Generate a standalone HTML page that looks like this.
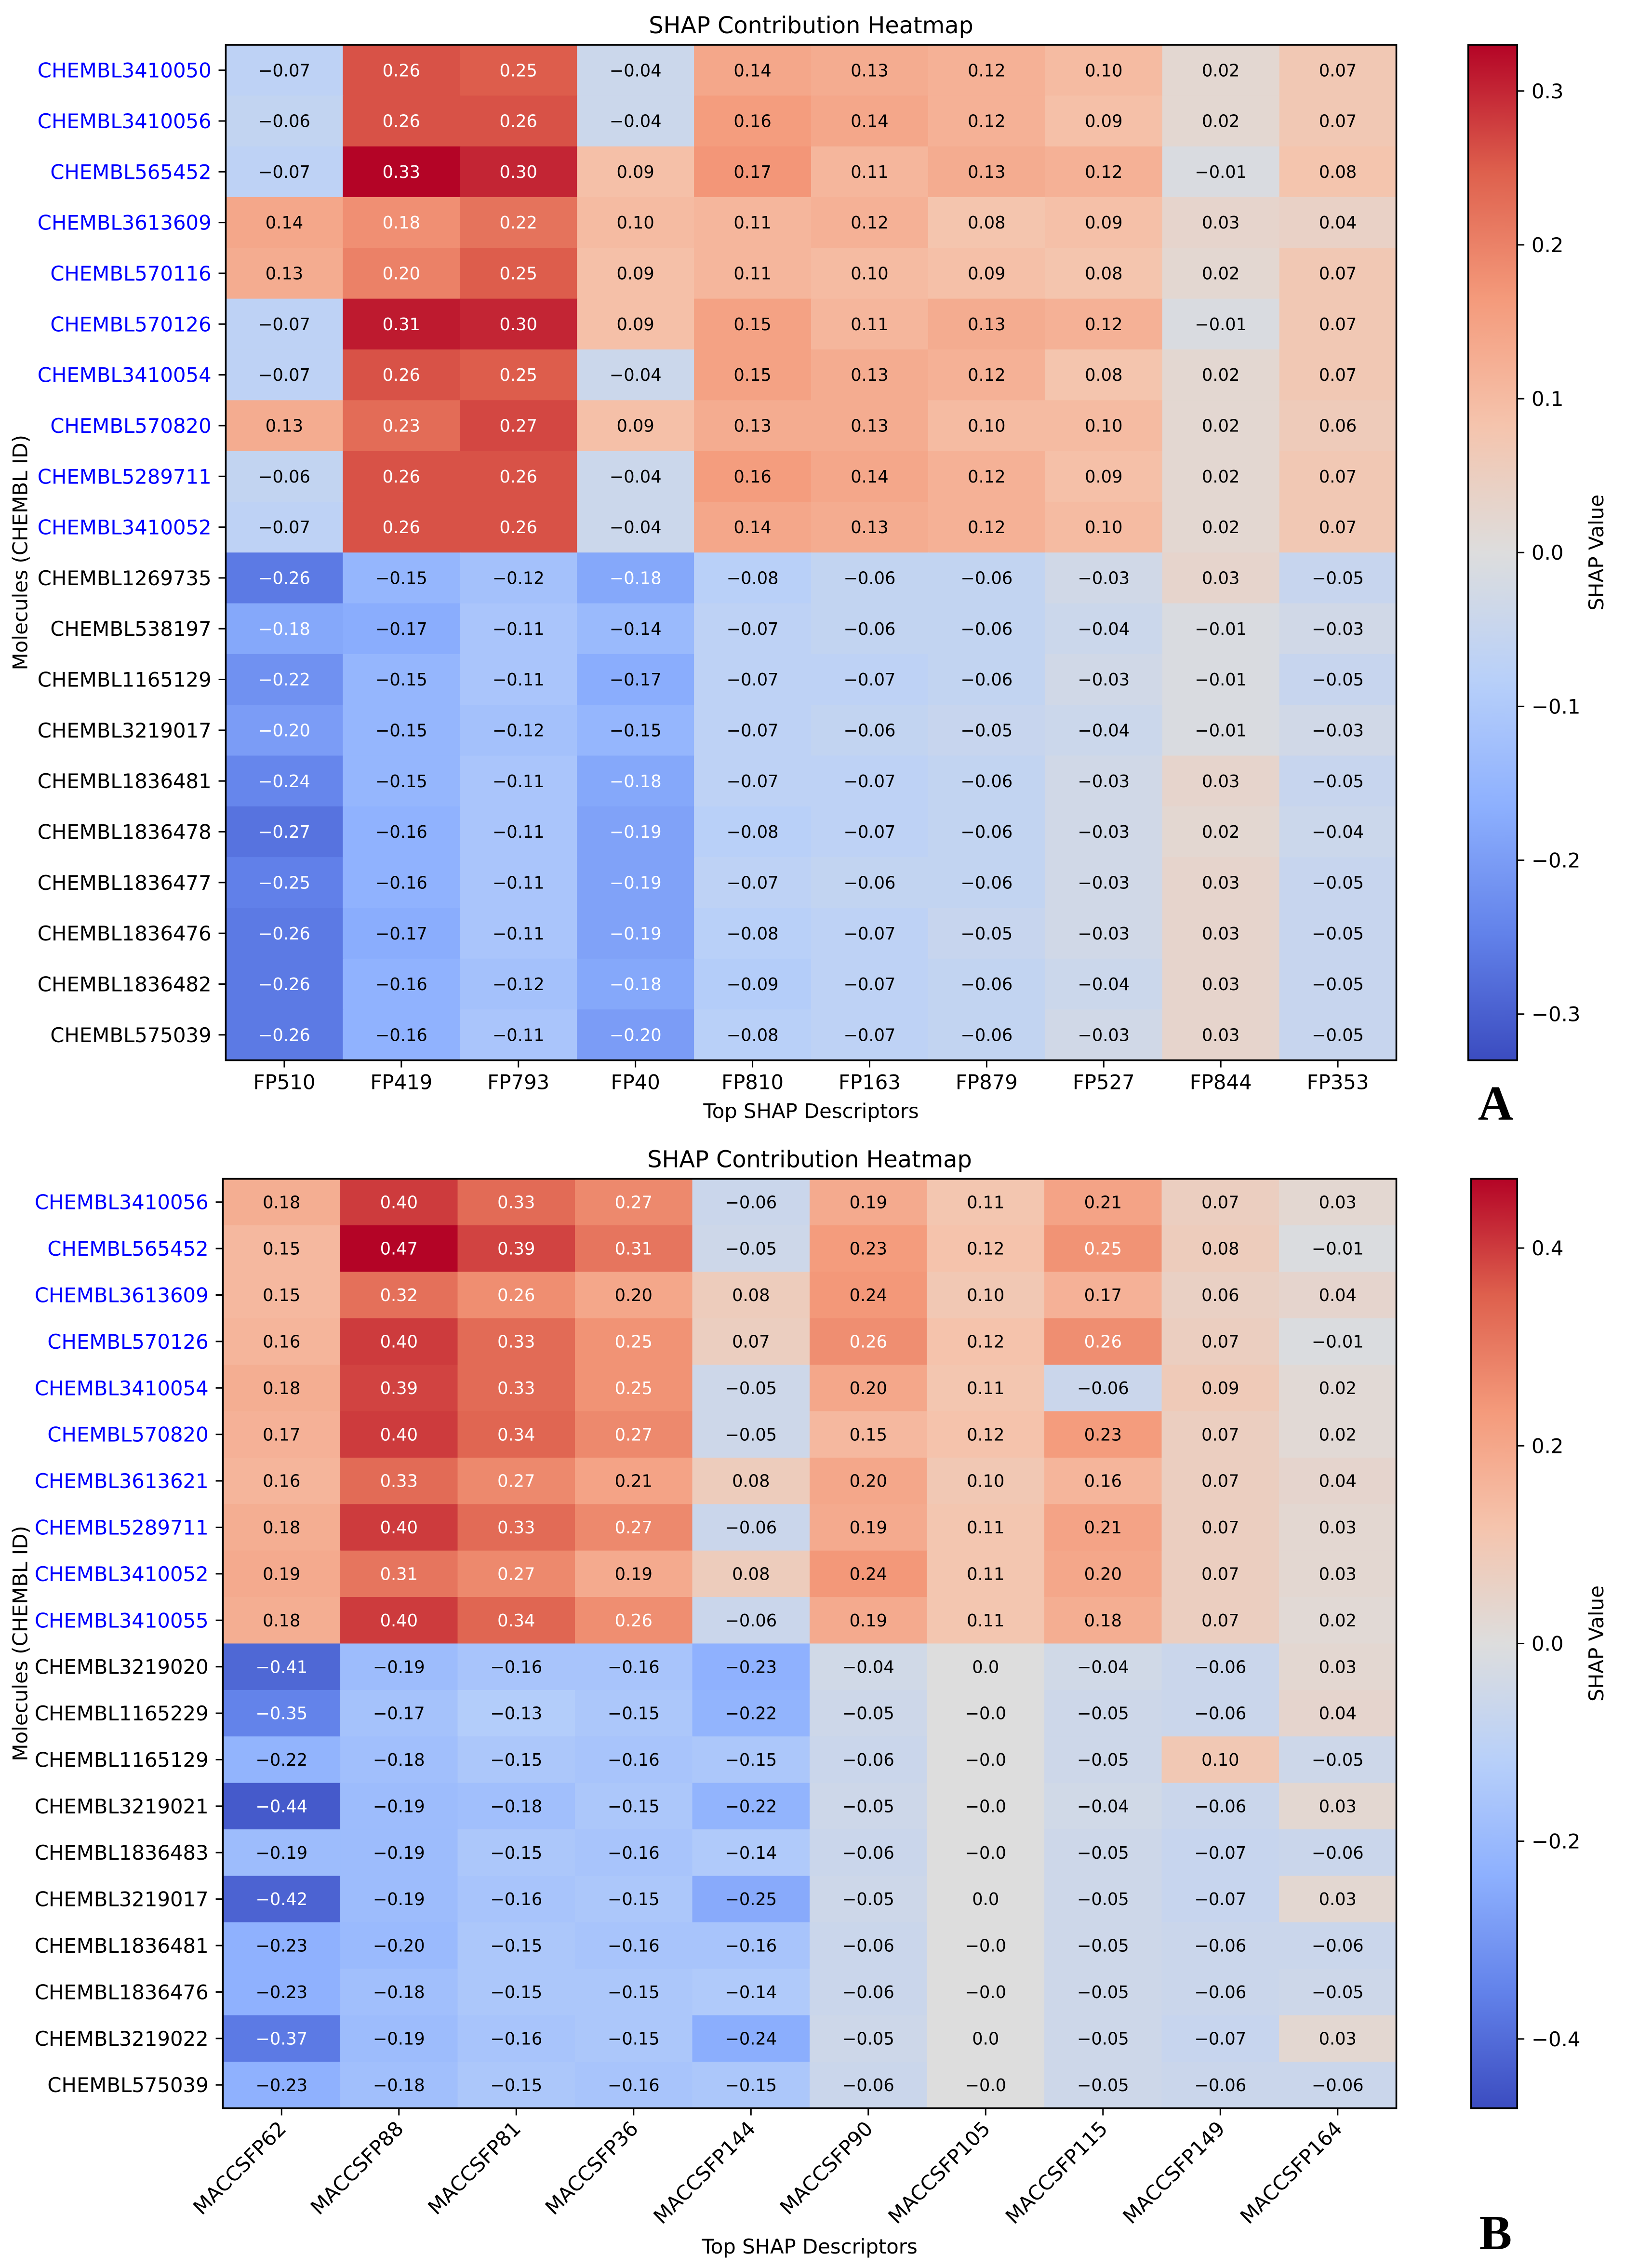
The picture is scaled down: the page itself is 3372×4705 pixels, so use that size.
<!DOCTYPE html>
<html><head><meta charset="utf-8"><style>
html,body{margin:0;padding:0;background:#fff;}
svg{display:block;font-family:"DejaVu Sans","Liberation Sans",sans-serif;}
</style></head><body>
<svg id="fig" width="3372" height="4705" viewBox="0 0 1130 1568" preserveAspectRatio="none" xmlns="http://www.w3.org/2000/svg"></svg>
<script>
// ---- Chart A data ----
const colsA = ["FP510","FP419","FP793","FP40","FP810","FP163","FP879","FP527","FP844","FP353"];
const rowsA = ["CHEMBL3410050","CHEMBL3410056","CHEMBL565452","CHEMBL3613609","CHEMBL570116","CHEMBL570126","CHEMBL3410054","CHEMBL570820","CHEMBL5289711","CHEMBL3410052","CHEMBL1269735","CHEMBL538197","CHEMBL1165129","CHEMBL3219017","CHEMBL1836481","CHEMBL1836478","CHEMBL1836477","CHEMBL1836476","CHEMBL1836482","CHEMBL575039"];
const valsA = [
[-0.07,0.26,0.25,-0.04,0.14,0.13,0.12,0.1,0.02,0.07],
[-0.06,0.26,0.26,-0.04,0.16,0.14,0.12,0.09,0.02,0.07],
[-0.07,0.33,0.3,0.09,0.17,0.11,0.13,0.12,-0.01,0.08],
[0.14,0.18,0.22,0.1,0.11,0.12,0.08,0.09,0.03,0.04],
[0.13,0.2,0.25,0.09,0.11,0.1,0.09,0.08,0.02,0.07],
[-0.07,0.31,0.3,0.09,0.15,0.11,0.13,0.12,-0.01,0.07],
[-0.07,0.26,0.25,-0.04,0.15,0.13,0.12,0.08,0.02,0.07],
[0.13,0.23,0.27,0.09,0.13,0.13,0.1,0.1,0.02,0.06],
[-0.06,0.26,0.26,-0.04,0.16,0.14,0.12,0.09,0.02,0.07],
[-0.07,0.26,0.26,-0.04,0.14,0.13,0.12,0.1,0.02,0.07],
[-0.26,-0.15,-0.12,-0.18,-0.08,-0.06,-0.06,-0.03,0.03,-0.05],
[-0.18,-0.17,-0.11,-0.14,-0.07,-0.06,-0.06,-0.04,-0.01,-0.03],
[-0.22,-0.15,-0.11,-0.17,-0.07,-0.07,-0.06,-0.03,-0.01,-0.05],
[-0.20,-0.15,-0.12,-0.15,-0.07,-0.06,-0.05,-0.04,-0.01,-0.03],
[-0.24,-0.15,-0.11,-0.18,-0.07,-0.07,-0.06,-0.03,0.03,-0.05],
[-0.27,-0.16,-0.11,-0.19,-0.08,-0.07,-0.06,-0.03,0.02,-0.04],
[-0.25,-0.16,-0.11,-0.19,-0.07,-0.06,-0.06,-0.03,0.03,-0.05],
[-0.26,-0.17,-0.11,-0.19,-0.08,-0.07,-0.05,-0.03,0.03,-0.05],
[-0.26,-0.16,-0.12,-0.18,-0.09,-0.07,-0.06,-0.04,0.03,-0.05],
[-0.26,-0.16,-0.11,-0.20,-0.08,-0.07,-0.06,-0.03,0.03,-0.05]];
const ticksA = [-0.3,-0.2,-0.1,0,0.1,0.2,0.3];
const vmaxA = 0.33;

// ---- Chart B data ----
const colsB = ["MACCSFP62","MACCSFP88","MACCSFP81","MACCSFP36","MACCSFP144","MACCSFP90","MACCSFP105","MACCSFP115","MACCSFP149","MACCSFP164"];
const rowsB = ["CHEMBL3410056","CHEMBL565452","CHEMBL3613609","CHEMBL570126","CHEMBL3410054","CHEMBL570820","CHEMBL3613621","CHEMBL5289711","CHEMBL3410052","CHEMBL3410055","CHEMBL3219020","CHEMBL1165229","CHEMBL1165129","CHEMBL3219021","CHEMBL1836483","CHEMBL3219017","CHEMBL1836481","CHEMBL1836476","CHEMBL3219022","CHEMBL575039"];
const valsB = [
[0.18,0.40,0.33,0.27,-0.06,0.19,0.11,0.21,0.07,0.03],
[0.15,0.47,0.39,0.31,-0.05,0.23,0.12,0.25,0.08,-0.01],
[0.15,0.32,0.26,0.20,0.08,0.24,0.1,0.17,0.06,0.04],
[0.16,0.40,0.33,0.25,0.07,0.26,0.12,0.26,0.07,-0.01],
[0.18,0.39,0.33,0.25,-0.05,0.20,0.11,-0.06,0.09,0.02],
[0.17,0.40,0.34,0.27,-0.05,0.15,0.12,0.23,0.07,0.02],
[0.16,0.33,0.27,0.21,0.08,0.20,0.1,0.16,0.07,0.04],
[0.18,0.40,0.33,0.27,-0.06,0.19,0.11,0.21,0.07,0.03],
[0.19,0.31,0.27,0.19,0.08,0.24,0.11,0.20,0.07,0.03],
[0.18,0.40,0.34,0.26,-0.06,0.19,0.11,0.18,0.07,0.02],
[-0.41,-0.19,-0.16,-0.16,-0.23,-0.04,0.0,-0.04,-0.06,0.03],
[-0.35,-0.17,-0.13,-0.15,-0.22,-0.05,-0.001,-0.05,-0.06,0.04],
[-0.22,-0.18,-0.15,-0.16,-0.15,-0.06,-0.001,-0.05,0.10,-0.05],
[-0.44,-0.19,-0.18,-0.15,-0.22,-0.05,-0.001,-0.04,-0.06,0.03],
[-0.19,-0.19,-0.15,-0.16,-0.14,-0.06,-0.001,-0.05,-0.07,-0.06],
[-0.42,-0.19,-0.16,-0.15,-0.25,-0.05,0.0,-0.05,-0.07,0.03],
[-0.23,-0.20,-0.15,-0.16,-0.16,-0.06,-0.001,-0.05,-0.06,-0.06],
[-0.23,-0.18,-0.15,-0.15,-0.14,-0.06,-0.001,-0.05,-0.06,-0.05],
[-0.37,-0.19,-0.16,-0.15,-0.24,-0.05,0.0,-0.05,-0.07,0.03],
[-0.23,-0.18,-0.15,-0.16,-0.15,-0.06,-0.001,-0.05,-0.06,-0.06]];
const ticksB = [-0.4,-0.2,0,0.2,0.4];
const vmaxB = 0.47;

const NS = "http://www.w3.org/2000/svg";
const svg = document.getElementById('fig');
const CM = [[59,76,192],[98,130,234],[141,176,254],[184,208,249],[221,221,221],[245,196,173],[244,154,123],[222,96,77],[180,4,38]];
function cmap(t){ t=Math.max(0,Math.min(1,t)); const p=t*8, i=Math.min(7,Math.floor(p)), f=p-i;
  const c=CM[i].map((a,k)=>a+(CM[i+1][k]-a)*f); return c; }
function rgb(c){return `rgb(${c.map(Math.round).join(',')})`;}
function lum(c){const l=c.map(v=>{v/=255;return v<=0.03928?v/12.92:Math.pow((v+0.055)/1.055,2.4);});return 0.2126*l[0]+0.7152*l[1]+0.0722*l[2];}
function el(tag, attrs, parent){const e=document.createElementNS(NS,tag);for(const k in attrs)e.setAttribute(k,attrs[k]);(parent||svg).appendChild(e);return e;}
function fmt(v){ if(Math.abs(v)<0.005) return (v<0?"\u22120.0":"0.0"); let s=v.toFixed(2); return s.replace('-','\u2212'); }

const defs = el('defs',{});
const grad = el('linearGradient',{id:'cg',x1:0,y1:1,x2:0,y2:0},defs);
for(let i=0;i<=16;i++){ el('stop',{offset:i/16,'stop-color':rgb(cmap(i/16))},grad); }

function draw(cfg){
  const {cols,rows,vals,ticks,vmax,x0,x1,y0,y1,title,titleY,rotate,letter,letterY,xTitleY,cbX,cbW,key}=cfg;
  const g = el('g',{});
  
  
  const cw=(x1-x0)/cols.length, rh=(y1-y0)/rows.length;
  const xs=i=>x0+i*cw, ys=j=>y0+j*rh, norm=v=>(v+vmax)/(2*vmax);
  const t=el('text',{x:(x0+x1)/2,y:titleY,'text-anchor':'middle','font-size':16},g); t.textContent=title;
   
  rows.forEach((r,j)=>{ cols.forEach((c,i)=>{
    const v=vals[j][i], col=cmap(norm(v));
    const rc=el('rect',{x:xs(i),y:ys(j),width:cw+0.4,height:rh+0.4,fill:rgb(col)},g);
     
    const tx=el('text',{x:xs(i)+cw/2,y:ys(j)+rh/2+4.2,'text-anchor':'middle','font-size':11.8,fill:lum(col)>0.408?'#000':'#fff'},g);
    tx.textContent=fmt(v);
     
  });
    const yl=el('text',{x:x0-10,y:ys(j)+rh/2+5,'text-anchor':'end','font-size':14,fill:j<10?'#0000ff':'#000'},g);
    yl.textContent=r;  
    el('line',{x1:x0-5,x2:x0,y1:ys(j)+rh/2,y2:ys(j)+rh/2,stroke:'#000','stroke-width':1},g);
  });
  cols.forEach((c,i)=>{
    const cx=xs(i)+cw/2;
    el('line',{x1:cx,x2:cx,y1:y1,y2:y1+5,stroke:'#000','stroke-width':1},g);
    let xl;
    if(rotate){ xl=el('text',{x:cx+4,y:y1+15,'text-anchor':'end','font-size':14,transform:`rotate(-45 ${cx+4} ${y1+15})`},g); }
    else { xl=el('text',{x:cx,y:y1+20,'text-anchor':'middle','font-size':14},g); }
    xl.textContent=c;  
  });
  el('rect',{x:x0,y:y0,width:x1-x0,height:y1-y0,fill:'none',stroke:'#000','stroke-width':1.2},g);
  const xt=el('text',{x:(x0+x1)/2,y:xTitleY,'text-anchor':'middle','font-size':14},g); xt.textContent='Top SHAP Descriptors';
   
  const ym=(y0+y1)/2;
  const yt=el('text',{x:19,y:ym,'text-anchor':'middle','font-size':14,transform:`rotate(-90 19 ${ym})`},g); yt.textContent='Molecules (CHEMBL ID)';
   
  const cb=el('rect',{x:cbX,y:y0,width:cbW,height:y1-y0,fill:'url(#cg)',stroke:'#000','stroke-width':1.2},g);
   
  ticks.forEach(tv=>{
    const yy=y1-norm(tv)*(y1-y0);
    el('line',{x1:cbX+cbW,x2:cbX+cbW+5,y1:yy,y2:yy,stroke:'#000','stroke-width':1},g);
    const tl=el('text',{x:cbX+cbW+10,y:yy+5,'font-size':14},g);
    tl.textContent=(Math.abs(tv)<1e-9?'0.0':tv.toFixed(1).replace('-','\u2212'));
     
  });
  const cl=el('text',{x:1115,y:ym,'text-anchor':'middle','font-size':14,transform:`rotate(-90 1115 ${ym})`},g); cl.textContent='SHAP Value';
   
  const L=el('text',{x:1040,y:letterY,'text-anchor':'middle','font-size':34,'font-weight':'bold','font-family':'"Liberation Serif",serif'},g); L.textContent=letter;
   
}
draw({key:'panel-a',cols:colsA,rows:rowsA,vals:valsA,ticks:ticksA,vmax:vmaxA,x0:157,x1:971,y0:31,y1:733,title:'SHAP Contribution Heatmap',titleY:23,rotate:false,letter:'A',letterY:774,xTitleY:773,cbX:1021,cbW:34});
draw({key:'panel-b',cols:colsB,rows:rowsB,vals:valsB,ticks:ticksB,vmax:vmaxB,x0:155,x1:971,y0:815,y1:1457.5,title:'SHAP Contribution Heatmap',titleY:807,rotate:true,letter:'B',letterY:1555,xTitleY:1558,cbX:1023,cbW:32});
</script>
</body></html>
